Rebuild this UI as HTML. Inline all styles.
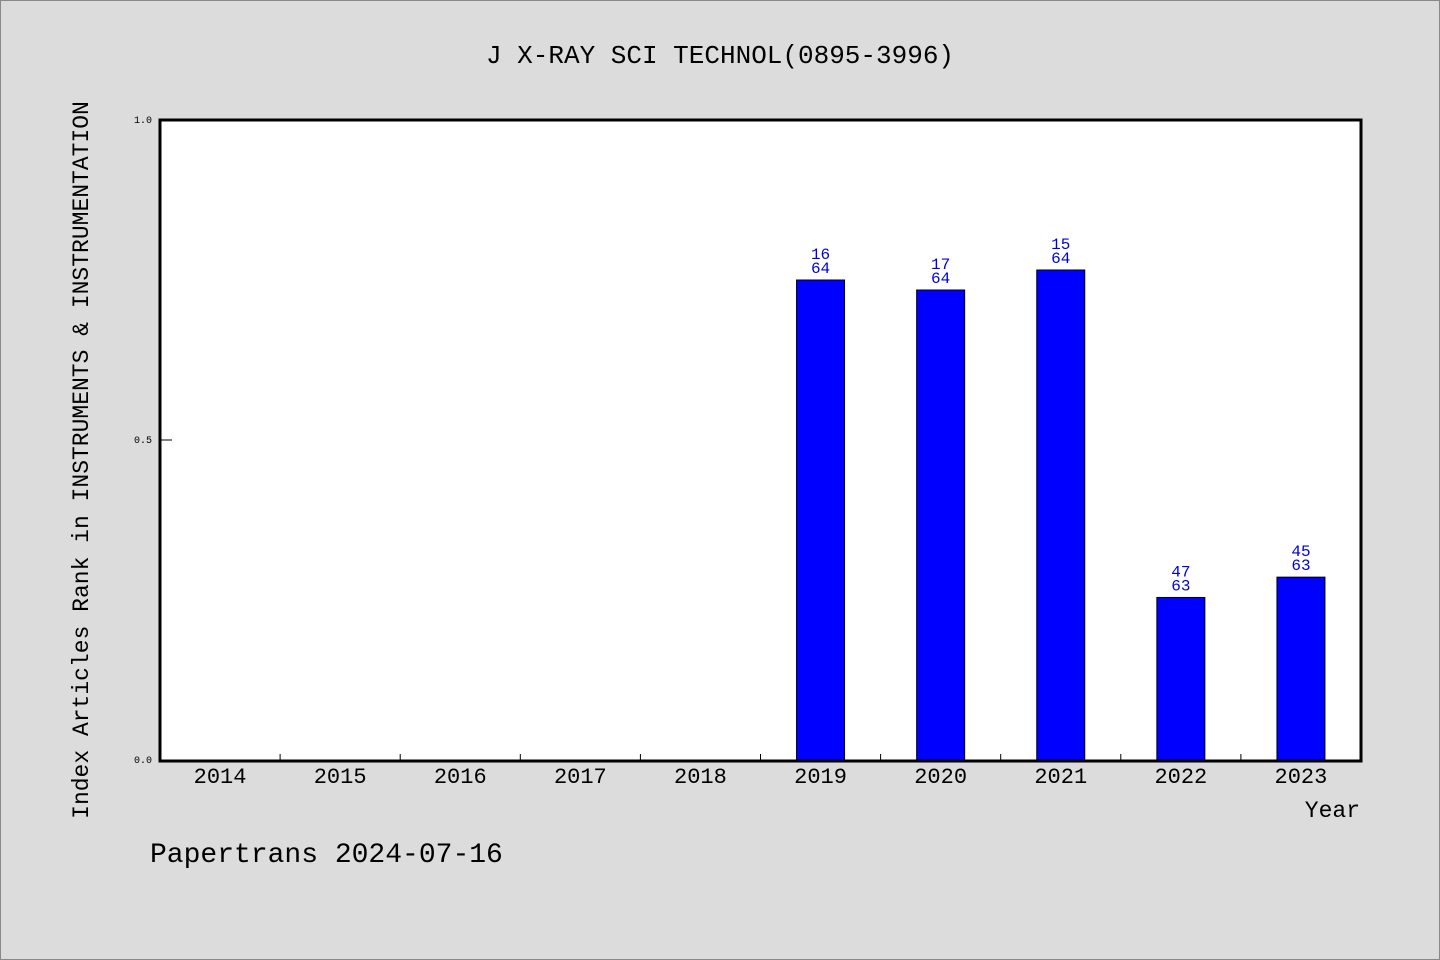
<!DOCTYPE html>
<html><head><meta charset="utf-8"><style>
body{margin:0;background:#dcdcdc;}
svg{display:block;font-family:"WenQuanYi Zen Hei","Liberation Mono",monospace;}
</style></head><body>
<svg width="1440" height="960">
<rect x="0.5" y="0.5" width="1439" height="959" fill="#dcdcdc" stroke="#888"/>
<text x="720" y="63" text-anchor="middle" font-size="26">J X-RAY SCI TECHNOL(0895-3996)</text>
<rect x="160" y="120" width="1201" height="641" fill="#fff" stroke="#000" stroke-width="3"/>
<g id="g"></g>
<text transform="translate(88,460) rotate(-90)" text-anchor="middle" font-size="23">Index Articles Rank in INSTRUMENTS &amp; INSTRUMENTATION</text>
<text x="1360" y="817" text-anchor="end" font-size="23">Year</text>
<text x="150" y="862" font-size="28">Papertrans 2024-07-16</text>
</svg>
<script>
const years=["2014","2015","2016","2017","2018","2019","2020","2021","2022","2023"];
const ranks=[null,null,null,null,null,16,17,15,47,45];
const totals=[null,null,null,null,null,64,64,64,63,63];
const yTicks=[0,0.5,1.0];
const yTickLabels=["0.0","0.5","1.0"];
const NS="http://www.w3.org/2000/svg",g=document.getElementById('g');
const x0=160,x1=1361,yb=760,yt=120,bw=(x1-x0)/years.length;
const y=v=>yb-v*(yb-yt);
function mk(t,a,txt){const e=document.createElementNS(NS,t);for(const k in a)e.setAttribute(k,a[k]);if(txt!=null)e.textContent=txt;g.appendChild(e);return e;}
yTicks.forEach((v,i)=>{
 const l=mk('line',{x1:x0,x2:x0+12,y1:y(v),y2:y(v),stroke:'#000'});
 
 
 const t=mk('text',{x:x0-8,y:y(v)+3,'text-anchor':'end','font-size':10},yTickLabels[i]);
 
 
});
years.forEach((yr,i)=>{
 const cx=x0+bw*(i+0.5);
 if(i>0){const l=mk('line',{x1:x0+bw*i,x2:x0+bw*i,y1:yb,y2:yb-6,stroke:'#000'});
  
  }
 const t=mk('text',{x:cx,y:783,'text-anchor':'middle','font-size':22},yr);
 
 
 if(ranks[i]!=null){
  const v=1-ranks[i]/totals[i];
  const b=mk('rect',{x:cx-24,y:y(v),width:48,height:yb-y(v),fill:'#0000ff',stroke:'#000'});
  
  
  const r=mk('text',{x:cx,y:y(v)-21,'text-anchor':'middle','font-size':16,fill:'#0000dd'},ranks[i]);
  
  
  const n=mk('text',{x:cx,y:y(v)-7,'text-anchor':'middle','font-size':16,fill:'#0000dd'},totals[i]);
  
  
 }
});
</script>
</body></html>
